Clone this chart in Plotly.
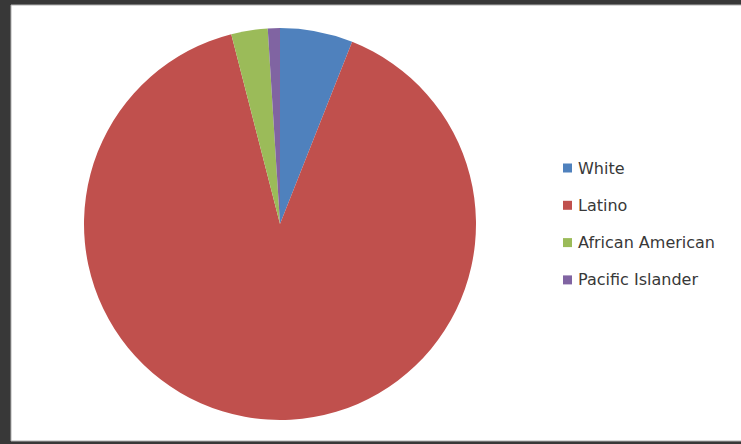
import plotly.graph_objects as go

labels = ["White", "Latino", "African American", "Pacific Islander"]
values = [6, 90, 3, 1]
colors = ["#4f81bd", "#c0504d", "#9bbb59", "#8064a2"]

W, H = 741, 444
cx, cy, r = 280, 224, 196

fig = go.Figure()
fig.add_trace(go.Pie(
    labels=labels, values=values, sort=False, direction="clockwise", rotation=0,
    marker=dict(colors=colors, line=dict(width=0)),
    textinfo="none", showlegend=False,
    domain=dict(x=[(cx - r) / W, (cx + r) / W], y=[1 - (cy + r) / H, 1 - (cy - r) / H]),
))

shapes = [
    dict(type="rect", xref="paper", yref="paper", x0=11 / W, x1=1.01, y0=1 - 441 / H, y1=1 - 5 / H,
         fillcolor="white", line=dict(color="#b0b0b0", width=1), layer="below"),
]
annotations = []
lx, ly0, dy = 563, 168, 37.3
for i, (lab, col) in enumerate(zip(labels, colors)):
    y = ly0 + i * dy
    shapes.append(dict(type="rect", xref="paper", yref="paper",
                       x0=lx / W, x1=(lx + 9) / W, y0=1 - (y + 4.5) / H, y1=1 - (y - 4.5) / H,
                       fillcolor=col, line=dict(width=0)))
    annotations.append(dict(text=lab, xref="paper", yref="paper", x=(lx + 13) / W, y=1 - y / H,
                            xanchor="left", yanchor="middle", showarrow=False,
                            font=dict(family="DejaVu Sans", size=16, color="#383838")))

fig.update_layout(
    width=W, height=H, margin=dict(l=0, r=0, t=0, b=0),
    paper_bgcolor="#383838", plot_bgcolor="white",
    shapes=shapes, annotations=annotations,
)
fig.write_html("out.html")
